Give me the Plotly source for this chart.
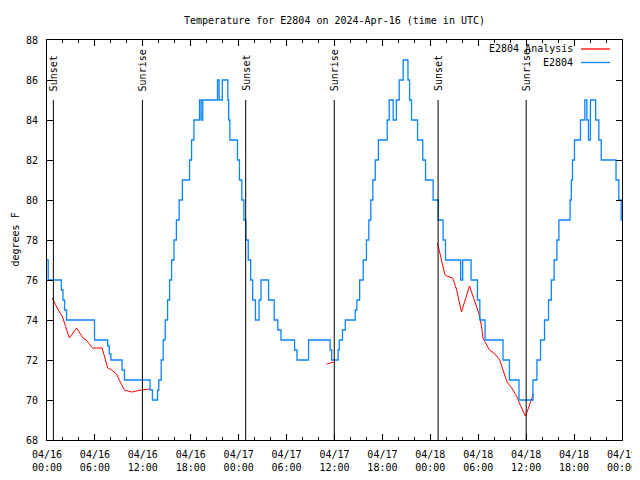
import pandas as pd
import plotly.graph_objects as go

BASE = pd.Timestamp("2024-04-16 00:00")

# E2804 observed (hours after 04/16 00:00 UTC, deg F), step data
obs_hours = [0.0, 0.15, 1.8, 2.0, 2.2, 2.45, 2.7, 5.95, 7.6, 7.8, 8.0, 9.4, 9.7,
             12.9, 13.2, 13.84, 14.0, 14.3, 14.55, 14.8, 15.1, 15.35, 15.6, 15.9,
             16.2, 16.55, 16.95, 17.85, 18.1, 18.4, 18.7, 19.1, 19.3,
             19.5, 21.35, 21.55, 21.95, 22.65, 22.75, 22.9, 23.85, 24.1, 24.4, 24.65,
             24.9, 25.2, 25.5, 25.75, 26.1, 26.55, 26.8, 27.75, 28.45, 28.9, 29.3,
             31.0, 31.3, 32.75, 35.45, 35.65, 36.45, 36.6, 37.0, 37.35, 38.6, 38.8,
             39.15, 39.6, 40.0, 40.3, 40.55, 40.8, 41.1, 41.5, 42.6, 42.85, 43.35,
             43.75, 44.1, 44.6, 45.2, 45.4, 45.65, 46.4, 47.05, 47.4, 48.35, 49.0,
             49.6, 49.9, 51.8, 52.05, 53.1, 53.9, 54.2, 54.85, 57.1, 57.9, 59.1,
             60.85, 61.35, 61.8, 62.3, 62.8, 63.15, 63.5, 63.85, 64.1, 65.5, 65.65,
             65.8, 66.05, 66.8, 67.35, 67.6, 67.8, 68.05, 68.7, 69.1, 69.4, 71.25,
             71.6, 71.9, 72.0]
obs_temps = [77, 76, 75.5, 75, 74.5, 74, 74, 73, 72.7, 72.3, 72, 71.5, 71,
             70.5, 70, 70.5, 71, 72, 73, 74, 75, 76, 77, 78,
             79, 80, 81, 82, 83, 84, 84, 85, 84,
             85, 86, 85, 86, 85, 84, 83, 82, 81, 80, 79,
             78, 77, 76, 75, 74, 75, 76, 75, 74, 73.5, 73,
             72.5, 72, 73, 72.5, 72, 72.5, 73, 73.5, 74, 74.5, 75,
             76, 77, 78, 79, 80, 81, 82, 83, 84, 85, 84,
             85, 86, 87, 86, 85, 84, 83, 82, 81, 80, 79,
             78, 77, 76, 77, 76, 75, 74, 73, 72, 71, 70,
             71, 72, 73, 74, 75, 76, 77, 78, 79, 80, 81,
             82, 83, 84, 85, 84, 83, 85, 84, 83, 82, 81,
             80, 79, 79]

# E2804 Analysis (hours, deg F); None separates segments
ana_hours = [0.66, 1.0, 1.4, 1.9, 2.3, 2.8, 3.7, 4.5, 4.9, 5.7, 6.9, 7.2, 7.6, 8.1,
             8.7, 9.3, 9.7, 10.6, 11.8, 12.9, None,
             35.0, 35.4, 35.9, None,
             48.9, 49.3, 49.8, 50.0, 50.8, 51.3, 51.9, 52.9, 53.7, 54.1, 54.4, 54.6,
             55.0, 55.4, 56.1, 56.7, 57.1, 57.6, 58.2, 58.8, 59.2, 59.9, 60.2, 60.6,
             60.9]
ana_temps = [75.1, 74.8, 74.5, 74.2, 73.7, 73.1, 73.6, 73.1, 73.0, 72.6, 72.6, 72.2,
             71.6, 71.5, 71.3, 70.8, 70.5, 70.4, 70.5, 70.55, None,
             71.8, 71.85, 71.9, None,
             77.85, 77.2, 76.3, 76.2, 76.1, 75.5, 74.4, 75.7, 74.8, 74.3, 73.7, 73.1,
             72.8, 72.5, 72.3, 72.0, 71.5, 70.9, 70.6, 70.2, 69.8, 69.2, 69.5, 70.0,
             70.3]

event_labels = ["Sunset", "Sunrise", "Sunset", "Sunrise", "Sunset", "Sunrise"]
event_hours = [0.8, 11.95, 24.88, 35.97, 48.97, 60.0]

series_names = ["E2804 Analysis", "E2804"]
series_colors = ["#ff0000", "#0a84ff"]


def to_time(hours):
    return [None if h is None else BASE + pd.Timedelta(hours=h) for h in hours]


FONT = "DejaVu Sans Mono"
OFF = 8  # page body margin of the html page
fig = go.Figure()
fig.add_trace(go.Scatter(x=to_time(ana_hours), y=ana_temps, mode="lines",
                         name=series_names[0], connectgaps=False,
                         line=dict(color=series_colors[0], width=1)))
fig.add_trace(go.Scatter(x=to_time(obs_hours), y=obs_temps, mode="lines",
                         name=series_names[1], line_shape="hv",
                         line=dict(color=series_colors[1], width=1.3)))

for lab, h in zip(event_labels, event_hours):
    t = BASE + pd.Timedelta(hours=h)
    fig.add_shape(type="line", xref="x", yref="y", x0=t, x1=t, y0=68, y1=85,
                  line=dict(color="black", width=1))
    fig.add_annotation(x=t, y=85, xref="x", yref="y", text=lab, textangle=-90,
                       showarrow=False, yanchor="bottom", xanchor="center",
                       yshift=7, font=dict(family=FONT, size=10, color="black"))

# legend (gnuplot style: text right, sample line on the right)
L, R, T, B = 47, 622, 40, 440
W, H = R - L, B - T
for i, (nm, col) in enumerate(zip(series_names, series_colors)):
    ypix = 49 + 13.5 * i
    yp = (B - ypix) / H
    fig.add_annotation(xref="paper", yref="paper", x=(575 - L) / W, y=yp, text=nm,
                       showarrow=False, xanchor="right", yanchor="middle",
                       font=dict(family=FONT, size=10, color="black"))
    fig.add_shape(type="line", xref="paper", yref="paper", x0=(581 - L) / W,
                  x1=(610 - L) / W, y0=yp, y1=yp, line=dict(color=col, width=1.3))

fig.add_annotation(xref="paper", yref="paper", x=(14.5 - L) / W, y=0.5,
                   text="degrees F", textangle=-90, showarrow=False,
                   xanchor="center", yanchor="middle",
                   font=dict(family=FONT, size=10, color="black"))

FW, FH = 640 - OFF, 480 - OFF
fig.update_layout(
    width=FW, height=FH,
    margin=dict(l=L - OFF, r=FW - (R - OFF), t=T - OFF, b=FH - (B - OFF), autoexpand=False),
    paper_bgcolor="white", plot_bgcolor="white",
    showlegend=False,
    title=dict(text="Temperature for E2804 on 2024-Apr-16 (time in UTC)",
               x=0.5, xref="paper", y=1 - (20 - OFF) / FH, yanchor="middle",
               font=dict(family=FONT, size=10, color="black")),
    font=dict(family=FONT, size=10, color="black"),
)
fig.update_xaxes(
    type="date", range=[BASE, BASE + pd.Timedelta(hours=72)], automargin=False,
    tick0=BASE, dtick=6 * 3600 * 1000, tickformat="%m/%d<br>%H:%M",
    ticks="inside", ticklen=6, tickcolor="black", showline=True, linecolor="black",
    linewidth=1, mirror="ticks", showgrid=False, zeroline=False, ticklabelstandoff=5,
    minor=dict(dtick=2 * 3600 * 1000, ticks="inside", ticklen=3,
               tickcolor="black", showgrid=False),
    tickfont=dict(family=FONT, size=10, color="black"),
)
fig.update_yaxes(
    range=[68, 88], dtick=2, ticks="inside", ticklen=6, tickcolor="black",
    showline=True, linecolor="black", linewidth=1, mirror="ticks", automargin=False,
    showgrid=False, zeroline=False, ticklabelstandoff=6,
    tickfont=dict(family=FONT, size=10, color="black"),
)

fig.write_html("out.html")
